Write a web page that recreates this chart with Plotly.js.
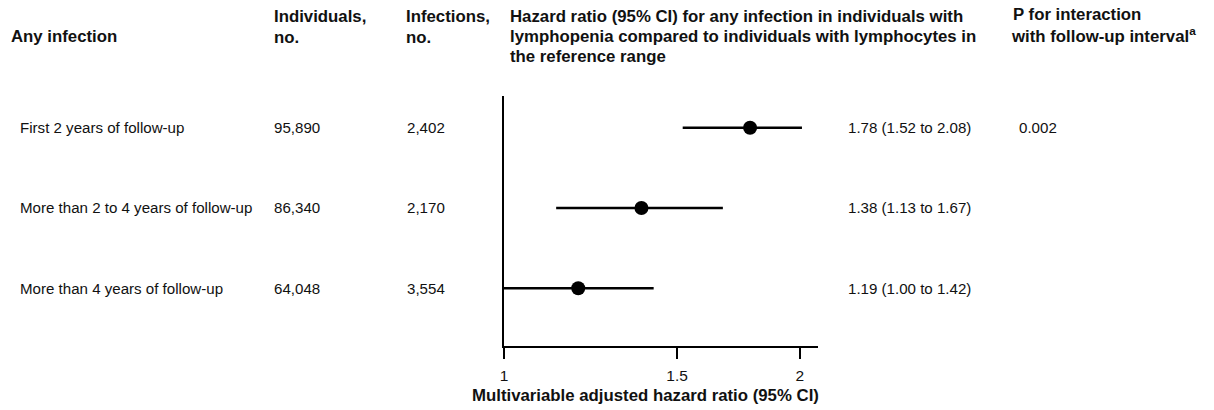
<!DOCTYPE html>
<html><head><meta charset="utf-8">
<script src="https://cdn.plot.ly/plotly-3.0.1.min.js"></script>
<style>html,body{margin:0;padding:0;background:#fff}#chart{width:1214px;height:410px}</style>
</head><body><div id="chart"></div>
<script>
// ---- data ----
const rowLabels = ["First 2 years of follow-up", "More than 2 to 4 years of follow-up", "More than 4 years of follow-up"];
const individuals = ["95,890", "86,340", "64,048"];
const infections = ["2,402", "2,170", "3,554"];
const hr = [1.78, 1.38, 1.19];
const ciLow = [1.52, 1.13, 1.00];
const ciHigh = [2.08, 1.67, 1.42];
const pInteraction = ["0.002", "", ""];
const rowPos = [3, 2, 1];
const tickVals = [1, 1.5, 2];
const tickText = ["1", "1.5", "2"];
const ciDrawMax = 2.01;   // CI lines in the original figure stop at the plotted limit

// ---- layout geometry ----
const W = 1214, H = 410;
const M = {l: 504, r: 396, t: 96, b: 64};
const PW = W - M.l - M.r, PH = H - M.t - M.b;
const px = x => (x - M.l) / PW;
const py = y => (H - M.b - y) / PH;
const FONT = '"Liberation Sans", Arial, Helvetica, sans-serif';
const INK = '#111';
const BOLD = 16.8, REG = 15.1;

// ---- traces ----
const ciX = [], ciY = [];
hr.forEach((v, i) => {
  ciX.push(ciLow[i], Math.min(ciHigh[i], ciDrawMax), null);
  ciY.push(rowPos[i], rowPos[i], null);
});
const traces = [
  {type: 'scatter', mode: 'lines', x: ciX, y: ciY, line: {color: '#000', width: 2.6},
   hoverinfo: 'skip', showlegend: false, cliponaxis: true},
  {type: 'scatter', mode: 'markers', x: hr, y: rowPos,
   marker: {color: '#000', size: 14, line: {width: 0}}, showlegend: false}
];

// ---- annotations ----
const ann = [];
function txt(text, x, yval, yref, opts = {}) {
  ann.push(Object.assign({
    text, x, y: yval, xref: 'paper', yref, xanchor: 'left', yanchor: 'middle',
    showarrow: false, borderpad: 0, borderwidth: 0,
    font: {family: FONT, size: REG, color: INK}
  }, opts));
}
const bold = {font: {family: FONT, size: BOLD, color: INK, weight: 'bold'}};
const b = s => '<b>' + s + '</b>';

// headers
txt(b('Any infection'), px(11), py(36), 'paper', bold);
txt(b('Individuals,'), px(273.5), py(17), 'paper', bold);
txt(b('no.'), px(273.5), py(37), 'paper', bold);
txt(b('Infections,'), px(406), py(17), 'paper', bold);
txt(b('no.'), px(406), py(37), 'paper', bold);
txt(b('Hazard ratio (95% CI) for any infection in individuals with'), px(509.5), py(16.5), 'paper', bold);
txt(b('lymphopenia compared to individuals with lymphocytes in'), px(509.5), py(36.5), 'paper', bold);
txt(b('the reference range'), px(509.5), py(56.5), 'paper', bold);
txt(b('P for interaction'), px(1012.5), py(15), 'paper', bold);
txt(b('with follow-up interval<sup>a</sup>'), px(1010.5), py(35), 'paper', bold);

// rows
rowLabels.forEach((lab, i) => {
  const yv = rowPos[i];
  txt(lab, px(20), yv, 'y');
  txt(individuals[i], px(273.5), yv, 'y');
  txt(infections[i], px(406.5), yv, 'y');
  txt(`${hr[i].toFixed(2)} (${ciLow[i].toFixed(2)} to ${ciHigh[i].toFixed(2)})`, px(848), yv, 'y');
  if (pInteraction[i]) txt(pInteraction[i], px(1019), yv, 'y');
});

// x-axis title
ann.push({text: b('Multivariable adjusted hazard ratio (95% CI)'), x: px(645), y: py(395),
  xref: 'paper', yref: 'paper', xanchor: 'center', yanchor: 'middle', showarrow: false,
  font: {family: FONT, size: BOLD, color: INK, weight: 'bold'}});

const layout = {
  width: W, height: H,
  margin: M,
  paper_bgcolor: '#fff', plot_bgcolor: '#fff',
  font: {family: FONT, size: REG, color: INK},
  showlegend: false,
  xaxis: {
    type: 'log', range: [0, Math.log10(2.087)],
    tickmode: 'array', tickvals: tickVals, ticktext: tickText,
    ticks: 'outside', ticklen: 11, tickwidth: 1.5, tickcolor: '#000',
    ticklabelstandoff: 4,
    showline: true, linewidth: 1.6, linecolor: '#000',
    showgrid: false, zeroline: false,
    tickfont: {family: FONT, size: 15.5, color: INK}, fixedrange: true
  },
  yaxis: {
    range: [0.281, 3.395], showline: true, linewidth: 1.6, linecolor: '#000',
    showticklabels: false, ticks: '', showgrid: false, zeroline: false, fixedrange: true
  },
  annotations: ann
};

Plotly.newPlot('chart', traces, layout, {displayModeBar: false, staticPlot: true});
</script>
</body></html>
